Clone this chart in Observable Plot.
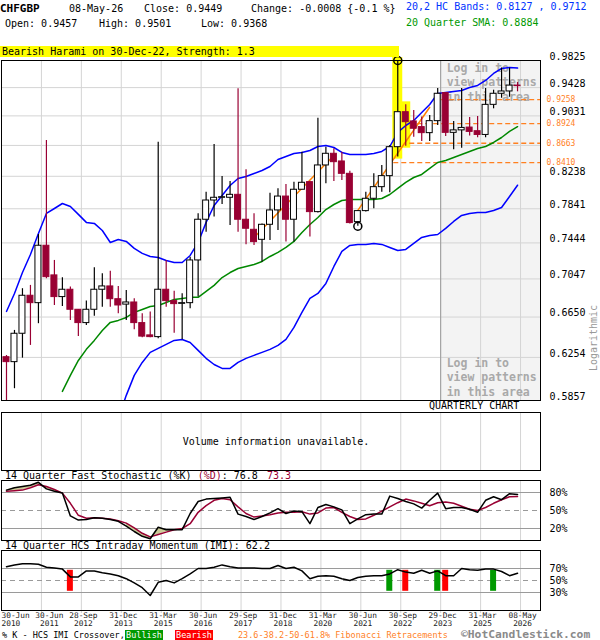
<!DOCTYPE html>
<html><head><meta charset="utf-8">
<script src="https://cdn.jsdelivr.net/npm/d3@7"></script>
<script src="https://cdn.jsdelivr.net/npm/@observablehq/plot@0.6"></script>
<style>
body{margin:0;background:#fff;}
#root{position:relative;width:600px;height:640px;overflow:hidden;font-family:"DejaVu Sans Mono",monospace;font-size:10px;color:#000;background:#fff;}
.t{position:absolute;white-space:pre;line-height:10px;}
</style></head><body><div id="root"></div>
<script>
// ---------- DATA (quarterly CHFGBP, Q2 2010 .. Q2 2026) ----------
const open  = [0.6256,0.6209,0.6483,0.6869,0.6792,0.7412,0.7085,0.6855,0.6932,0.6724,
               0.6589,0.6724,0.6932,0.6967,0.6833,0.6777,0.6799,0.6589,0.6467,0.6450,
               0.6932,0.6813,0.6785,0.6792,0.7248,0.7711,0.7940,0.7973,0.7973,0.8009,
               0.7711,0.7594,0.7479,0.7652,0.7821,0.7988,0.7711,0.8071,0.8165,0.7801,
               0.8375,0.8525,0.8426,0.8269,0.7683,0.7813,0.7961,0.8103,0.8240,0.8611,
               0.9082,0.8955,0.8878,0.8797,0.8959,0.9350,0.8801,0.8834,0.8872,0.8823,
               0.8773,0.9184,0.9340,0.9373,0.9457];
const high  = [0.6272,0.6516,0.6943,0.6978,0.7540,0.8699,0.7248,0.7059,0.6960,0.6724,
               0.6813,0.7167,0.7103,0.7131,0.6967,0.6925,0.6838,0.6684,0.6700,0.8677,
               0.7248,0.6915,0.6889,0.7284,0.7782,0.8041,0.8646,0.8236,0.8173,0.9411,
               0.8320,0.7782,0.7660,0.8029,0.8083,0.8136,0.8165,0.8546,0.8170,0.8999,
               0.8611,0.8590,0.8546,0.8300,0.7813,0.8041,0.8269,0.8375,0.8632,0.9825,
               0.9184,0.9105,0.9014,0.9035,0.9415,0.9350,0.8955,0.9414,0.9010,0.9024,
               0.9414,0.9391,0.9713,0.9713,0.9501];
const low   = [0.5800,0.5963,0.6247,0.6369,0.6583,0.7049,0.6768,0.6758,0.6616,0.6455,
               0.6566,0.6657,0.6751,0.6751,0.6684,0.6616,0.6523,0.6443,0.6443,0.6434,
               0.6751,0.6489,0.6425,0.6734,0.6855,0.7567,0.7742,0.7892,0.7645,0.7567,
               0.7423,0.7416,0.7229,0.7472,0.7586,0.7453,0.7453,0.8071,0.7510,0.7790,
               0.8145,0.8174,0.8186,0.7660,0.7635,0.7801,0.7841,0.8041,0.8033,0.8482,
               0.8624,0.8743,0.8686,0.8686,0.8900,0.8753,0.8577,0.8598,0.8758,0.8737,
               0.8737,0.9129,0.9277,0.9291,0.9368];
const close = [0.6209,0.6483,0.6869,0.6792,0.7412,0.7066,0.6855,0.6932,0.6724,0.6589,
               0.6724,0.6932,0.6967,0.6833,0.6768,0.6799,0.6589,0.6455,0.6450,0.6932,
               0.6813,0.6782,0.6792,0.7248,0.7711,0.7940,0.7973,0.7980,0.8009,0.7711,
               0.7606,0.7453,0.7652,0.7821,0.7988,0.7711,0.8071,0.8157,0.7801,0.8375,
               0.8525,0.8417,0.8269,0.7672,0.7813,0.7961,0.8103,0.8240,0.8611,0.9082,
               0.8945,0.8856,0.8797,0.8959,0.9340,0.8801,0.8834,0.8867,0.8814,0.8773,
               0.9184,0.9340,0.9373,0.9457,0.9449];
const upperBand = [0.6707,0.6893,0.7116,0.7314,0.7551,0.7785,0.7844,0.7904,0.7868,0.7774,
               0.7680,0.7668,0.7586,0.7449,0.7483,0.7461,0.7382,0.7326,0.7292,0.7281,
               0.7248,0.7226,0.7226,0.7303,0.7449,0.7680,0.7880,0.8001,0.8124,0.8210,
               0.8235,0.8273,0.8311,0.8362,0.8451,0.8490,0.8529,0.8542,0.8568,0.8620,
               0.8633,0.8607,0.8542,0.8516,0.8516,0.8516,0.8529,0.8555,0.8620,0.8806,
               0.8900,0.8968,0.9077,0.9189,0.9344,0.9358,0.9373,0.9387,0.9430,0.9459,
               0.9531,0.9633,0.9706,0.9721,0.9712];
const lowerBand = [null,null,null,null,null,null,null,null,null,null,
               null,null,null,null,0.5700,0.5903,0.6085,0.6206,0.6302,0.6340,
               0.6379,0.6418,0.6427,0.6398,0.6321,0.6245,0.6187,0.6150,0.6150,0.6206,
               0.6245,0.6273,0.6302,0.6331,0.6369,0.6427,0.6546,0.6697,0.6841,0.6893,
               0.6999,0.7182,0.7348,0.7415,0.7427,0.7427,0.7438,0.7427,0.7393,0.7359,
               0.7370,0.7438,0.7506,0.7529,0.7540,0.7610,0.7691,0.7762,0.7785,0.7797,
               0.7797,0.7821,0.7856,0.7989,0.8127];
const sma20 = [null,null,null,null,null,null,null,0.5939,0.6085,0.6225,
               0.6331,0.6418,0.6516,0.6596,0.6616,0.6646,0.6697,0.6727,0.6758,0.6768,
               0.6799,0.6831,0.6841,0.6852,0.6852,0.6914,0.6978,0.7062,0.7116,0.7160,
               0.7182,0.7204,0.7237,0.7292,0.7337,0.7393,0.7461,0.7563,0.7656,0.7738,
               0.7832,0.7892,0.7940,0.7952,0.7952,0.7952,0.7952,0.7964,0.8013,0.8087,
               0.8161,0.8223,0.8261,0.8337,0.8413,0.8439,0.8477,0.8516,0.8555,0.8594,
               0.8620,0.8673,0.8739,0.8820,0.8884];
const stochK = [84,88,90,92,97,86,82,79,41,34, 35,38,37,35,32,24,15,7,3,22,
                18,18,18,45,65,69,70,71,72,44, 40,35,40,46,53,45,49,48,28,55,
                60,56,51,28,36,43,44,44,74,70, 65,61,54,67,79,53,55,55,52,47,
                67,73,68,78,76.8];
const stochD = [82,83,84,88,93,90,85,79,62,42, 37,38,37,36,33,29,21,12,6,10,
                14,18,20,28,47,58,67,70,68,56, 45,39,41,43,46,47,47,48,44,46,
                54,55,47,40,35,36,42,49,56,63, 69,66,62,58,63,64,62,57,52,50,
                55,62,68,73,73.3];
const imi    = [73,76,78,78,77,72,71,69,56,56, 66,66,63,61,58,53,46,38,25,47,
                50,46,53,61,70,70,72,76,73,71, 71,71,70,70,75,70,72,66,53,57,
                58,57,53,50,55,57,58,58,61,68, 64,62,67,62,66,58,58,70,68,67,
                69,69,65,58,62.2];
const stochZones = [[0,7],[15,22]];
const bullishIdx = [48,54,61];
const bearishIdx = [8,50,55];
const tickIdx  = [0,4,9,14,19,24,29,34,39,44,49,54,59,64];
const tickDay  = ["30-Jun","30-Jun","28-Sep","31-Dec","31-Mar","30-Jun","29-Sep","31-Dec","31-Mar","30-Jun","30-Sep","29-Dec","31-Mar","08-May"];
const tickYear = ["2010","2011","2012","2013","2015","2016","2017","2018","2020","2021","2022","2023","2025","2026"];
const yTicks   = [0.9825,0.9428,0.9031,0.8634,0.8238,0.7841,0.7444,0.7047,0.6650,0.6254,0.5857];
const yLabels  = [0.9825,0.9428,0.9031,0.8238,0.7841,0.7444,0.7047,0.6650,0.6254,0.5857];
const fibLevels = [0.9258,0.8924,0.8663,0.8410];
const fibFrom   = [54.5,51.5,50.5,48.5];
const patternIdx = [49,50];
const trendA = [{i:31,v:0.7506},{i:41,v:0.8503}];
const trendB = [{i:44,v:0.7821},{i:53,v:0.9150}];
const markedPoints = [{i:49,v:high[49]},{i:44,v:low[44]}];
const stochLevels = [80,50,20];
const imiLevels = [70,50,30];

// ---------- BUILD ----------
const root = document.getElementById("root");
const N = close.length;
const idx = d3.range(N);
const xDomain = [-0.625, 66.875];
const gridX = tickIdx.slice(1).map(i => i + 0.375);
const shadeStart = tickIdx[11] + 0.375;
const RED = "#990033";
const font = {fontFamily:"DejaVu Sans Mono, monospace", fontSize:"10px", background:"transparent", overflow:"visible"};
const base = {width:600, marginLeft:1, marginRight:60, x:{domain:xDomain, axis:null}, style:font};
const candles = idx.map(i => ({i, o:open[i], h:high[i], l:low[i], c:close[i], up:close[i] >= open[i]}));
const yMin = yTicks[yTicks.length-1], yMax = yTicks[0];

function place(svg, top){ svg.style.position="absolute"; svg.style.left="0px"; svg.style.top=top+"px"; root.append(svg); }
function txt(s, left, top, css){ const e=document.createElement("div"); e.className="t"; e.textContent=s; e.style.left=left+"px"; e.style.top=top+"px"; if(css) Object.assign(e.style, css); root.append(e); return e; }

// main candlestick chart
const main = Plot.plot({
  ...base, height:410, marginTop:60, marginBottom:10,
  y:{type:"log", domain:[yMin,yMax], axis:null},
  marks:[
    Plot.rect([0],{x1:shadeStart, x2:xDomain[1], y1:yMin, y2:yMax, fill:"#f3f3f3"}),
    Plot.ruleY(yTicks,{stroke:"#d4d4d4"}),
    Plot.ruleX(gridX,{stroke:"#d4d4d4"}),
    Plot.ruleX([shadeStart],{stroke:"#9a9a9a"}),
    Plot.text(["Log in to\nview patterns\nin this area"],{x:shadeStart, frameAnchor:"top", textAnchor:"start", lineAnchor:"top", dx:6, dy:1, fontSize:11.5, fontWeight:"bold", fill:"#a9a9a9", lineHeight:1.26}),
    Plot.text(["Log in to\nview patterns\nin this area"],{x:shadeStart, frameAnchor:"bottom", textAnchor:"start", lineAnchor:"bottom", dx:6, dy:-5, fontSize:11.5, fontWeight:"bold", fill:"#a9a9a9", lineHeight:1.26}),
    Plot.rect(patternIdx,{x1:i=>i-0.625, x2:i=>i+0.625, y1:i=>low[i], y2:i=>high[i], fill:"#ffff00", insetTop:-3, insetBottom:-2}),
    Plot.ruleY(fibLevels,{y:d=>d, x1:(d,k)=>fibFrom[k], x2:xDomain[1], stroke:"#ff8020", strokeWidth:1.3, strokeDasharray:"5,3"}),
    Plot.text(fibLevels,{y:d=>d, x:xDomain[1], dx:6, textAnchor:"start", text:d=>d.toFixed(4), fontSize:8, fill:"#ff7f27"}),
    Plot.line(idx,{x:i=>i, y:i=>upperBand[i], stroke:"#0000ff", clip:true}),
    Plot.line(idx,{x:i=>i, y:i=>lowerBand[i], stroke:"#0000ff", clip:true}),
    Plot.line(idx,{x:i=>i, y:i=>sma20[i], stroke:"#008800", clip:true}),
    Plot.line(trendA,{x:"i", y:"v", stroke:"#ff8000"}),
    Plot.line(trendB,{x:"i", y:"v", stroke:"#ff8000"}),
    Plot.ruleX(candles,{x:"i", y1:"l", y2:"h", stroke:d=>d.up?"#000000":RED, strokeWidth:1.2, clip:true}),
    Plot.rect(candles,{x1:d=>d.i-0.375, x2:d=>d.i+0.375, y1:"o", y2:"c", fill:d=>d.up?"#ffffff":RED, stroke:d=>d.up?"#000000":RED, strokeWidth:1}),
    Plot.dot(markedPoints,{x:"i", y:"v", r:4, stroke:"#000", fill:"none"}),
    Plot.frame({stroke:"#000"}),
    Plot.text(yLabels,{y:d=>d, x:xDomain[1], dx:9, dy:-4, textAnchor:"start", text:d=>d.toFixed(4), fontSize:10, fill:"#000"})
  ]
});
place(main, 0);

// volume panel
const vol = Plot.plot({
  ...base, height:62, marginTop:2, marginBottom:2,
  y:{domain:[0,1], axis:null},
  marks:[
    Plot.ruleX(gridX,{stroke:"#d4d4d4"}),
    Plot.frame({stroke:"#000"}),
    Plot.text(["Volume information unavailable."],{frameAnchor:"middle", dx:5, fontSize:10, fill:"#000"})
  ]
});
place(vol, 410);

// stochastic panel
const stoch = Plot.plot({
  ...base, height:64, marginTop:2, marginBottom:2,
  y:{domain:[0,100], axis:null},
  marks:[
    Plot.ruleX(gridX,{stroke:"#d4d4d4"}),
    Plot.ruleY([stochLevels[0], stochLevels[2]],{stroke:"#9a9a9a"}),
    Plot.ruleY([stochLevels[1]],{stroke:"#9a9a9a", strokeDasharray:"5,4"}),
    ...stochZones.map(([a,b]) => Plot.areaY(d3.range(a,b+1),{x:i=>i, y1:i=>stochK[i], y2:i=>stochD[i], fill:"#cccc99"})),
    Plot.line(idx,{x:i=>i, y:i=>stochD[i], stroke:RED}),
    Plot.line(idx,{x:i=>i, y:i=>stochK[i], stroke:"#000"}),
    Plot.frame({stroke:"#000"}),
    Plot.text(stochLevels,{y:d=>d, x:xDomain[1], dx:9, textAnchor:"start", text:d=>d+"%", fontSize:10, fill:"#000"})
  ]
});
place(stoch, 478);

// IMI panel + x axis
const sig = bullishIdx.map(i=>({i, c:"#009900"})).concat(bearishIdx.map(i=>({i, c:"#ff0000"})));
const lab = {frameAnchor:"bottom", lineAnchor:"top", dy:2, text:k=>tickDay[k]+"\n"+tickYear[k], fontSize:7.8, lineHeight:1.02, fill:"#222"};
const imiPlot = Plot.plot({
  ...base, height:92, marginTop:2, marginBottom:30,
  y:{domain:[0,100], axis:null},
  marks:[
    Plot.ruleX(gridX,{stroke:"#d4d4d4"}),
    Plot.ruleX(gridX,{y1:0, y2:0, insetBottom:-3, stroke:"#d4d4d4"}),
    Plot.ruleY([imiLevels[0], imiLevels[2]],{stroke:"#9a9a9a"}),
    Plot.ruleY([imiLevels[1]],{stroke:"#9a9a9a", strokeDasharray:"5,4"}),
    Plot.rect(sig,{x1:d=>d.i-0.375, x2:d=>d.i+0.375, y1:32, y2:67, fill:d=>d.c}),
    Plot.line(idx,{x:i=>i, y:i=>imi[i], stroke:"#000"}),
    Plot.frame({stroke:"#000"}),
    Plot.text(imiLevels,{y:d=>d, x:xDomain[1], dx:9, textAnchor:"start", text:d=>d+"%", fontSize:10, fill:"#000"}),
    Plot.text([0],{...lab, x:xDomain[0], textAnchor:"start"}),
    Plot.text([1],{...lab, x:k=>tickIdx[k]+0.375, dx:8}),
    Plot.text(d3.range(2,tickIdx.length),{...lab, x:k=>tickIdx[k]+0.375, dx:2})
  ]
});
place(imiPlot, 548);

// ---------- TEXT ----------
const last = N-1;
txt("CHFGBP", 0, 4, {fontWeight:"bold", fontSize:"11px"});
txt("08-May-26", 69, 4);
txt("Close: " + close[last].toFixed(4), 144, 4);
txt("Change: -0.0008 {-0.1 %}", 251, 4);
txt("Open: " + open[last].toFixed(4), 5, 19);
txt("High: " + high[last].toFixed(4), 99, 19);
txt("Low: " + low[last].toFixed(4), 201, 19);
txt("20,2 HC Bands: " + lowerBand[last].toFixed(4) + " , " + upperBand[last].toFixed(4), 406, 2, {color:"#0033ff"});
txt("20 Quarter SMA: " + sma20[last].toFixed(4), 406, 18, {color:"#009900"});
txt("Bearish Harami on 30-Dec-22, Strength: 1.3", 0, 46, {background:"#ffff00", width:"399px", height:"11px", lineHeight:"12px", paddingLeft:"2px", boxSizing:"border-box"});
txt("QUARTERLY CHART", 429, 401);
txt("Logarithmic", 594, 338, {color:"#999", transform:"translate(-50%,-50%) rotate(-90deg)"});

const st = txt("", 5, 471);
st.innerHTML = '14 Quarter Fast Stochastic (%K) <span style="color:'+RED+'">(%D)</span>: ' + stochK[last].toFixed(1) + ' <span style="color:'+RED+';padding-left:3px">' + stochD[last].toFixed(1) + '</span>';
txt("14 Quarter HCS Intraday Momentum (IMI): " + imi[last].toFixed(1), 5, 541);

const f = {fontSize:"8.5px", lineHeight:"9px"};
txt("% K - HCS IMI Crossover,", 2, 631, f);
txt("Bullish", 125, 630, {...f, background:"#009900", color:"#fff", width:"38px", height:"10px", lineHeight:"10px", textAlign:"center"});
txt("Bearish", 175, 630, {...f, background:"#ff0000", color:"#fff", width:"38px", height:"10px", lineHeight:"10px", textAlign:"center"});
txt("23.6-38.2-50-61.8% Fibonacci Retracements", 238, 631, {...f, color:"#ff7f27"});
txt("\u00A9HotCandlestick.com", 461, 630, {fontSize:"11.3px", lineHeight:"10px", fontWeight:"bold", color:"#8a8a8a"});
</script></body></html>
